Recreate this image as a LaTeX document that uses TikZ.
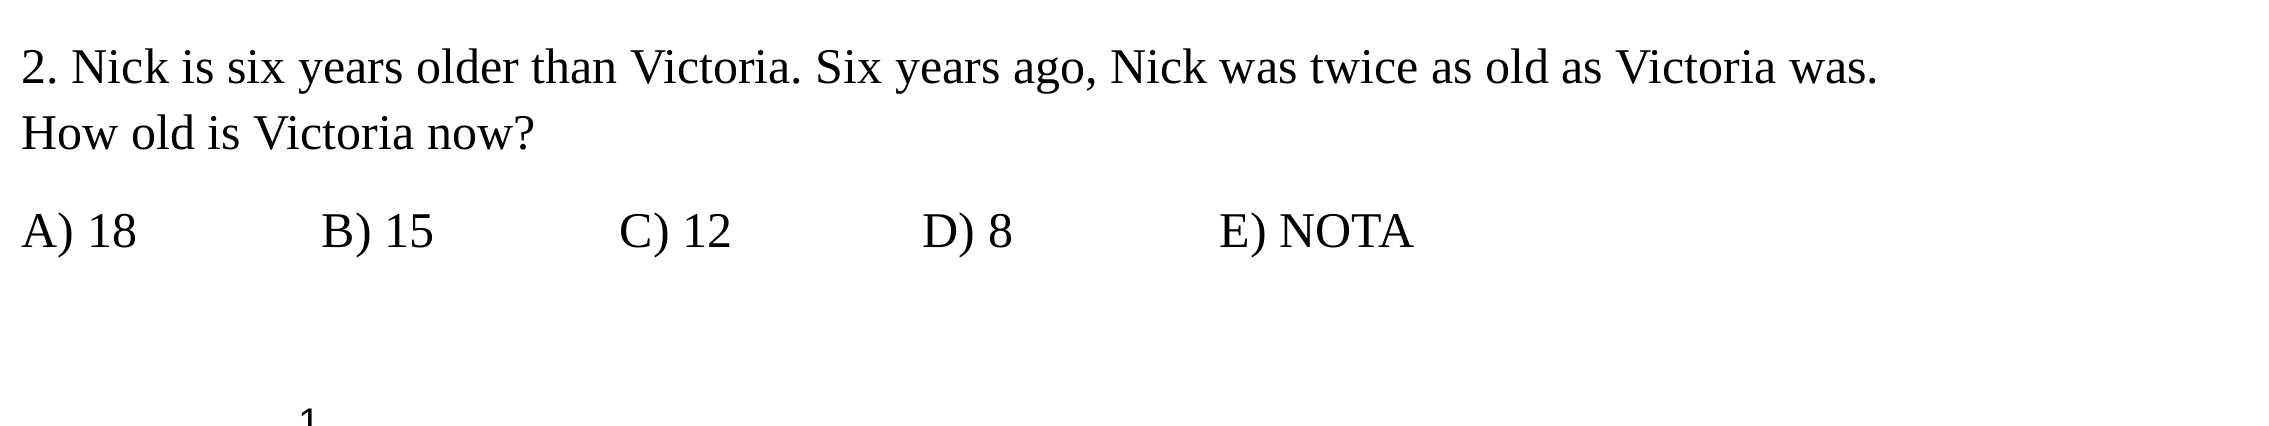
\documentclass[tikz,border=0pt]{standalone}
\usepackage{fontspec}
\setmainfont{Liberation Serif}
\setsansfont{Liberation Sans}
\usetikzlibrary{positioning}
\frenchspacing
\begin{document}
\begin{tikzpicture}[x=0.25pt,y=-0.25pt,
    txt/.style={anchor=base west,inner sep=0pt,font=\fontsize{12.5}{14}\selectfont}]
        \useasboundingbox (0,0) rectangle (2269,426);
        \clip (0,0) rectangle (2269,426);
        % Question
        \node[txt] (qline1) at (21,84) {2. Nick is six years older than Victoria. Six years ago, Nick was twice as old as Victoria was.};
        \node[txt] (qline2) at (21,150) {How old is Victoria now?};
        % Choices
        \node[txt] (optA) at (21,248) {A) 18};
        \node[txt] (optB) at (321,248) {B) 15};
        \node[txt] (optC) at (619,248) {C) 12};
        \node[txt] (optD) at (922,248) {D) 8};
        \node[txt] (optE) at (1219,248) {E) NOTA};
        % page number, cut off at the bottom
        \node[anchor=north west,inner sep=0pt,font=\sffamily\fontsize{10}{12}\selectfont] (pagenum) at (298,408) {1};
    \end{tikzpicture}
\end{document}
